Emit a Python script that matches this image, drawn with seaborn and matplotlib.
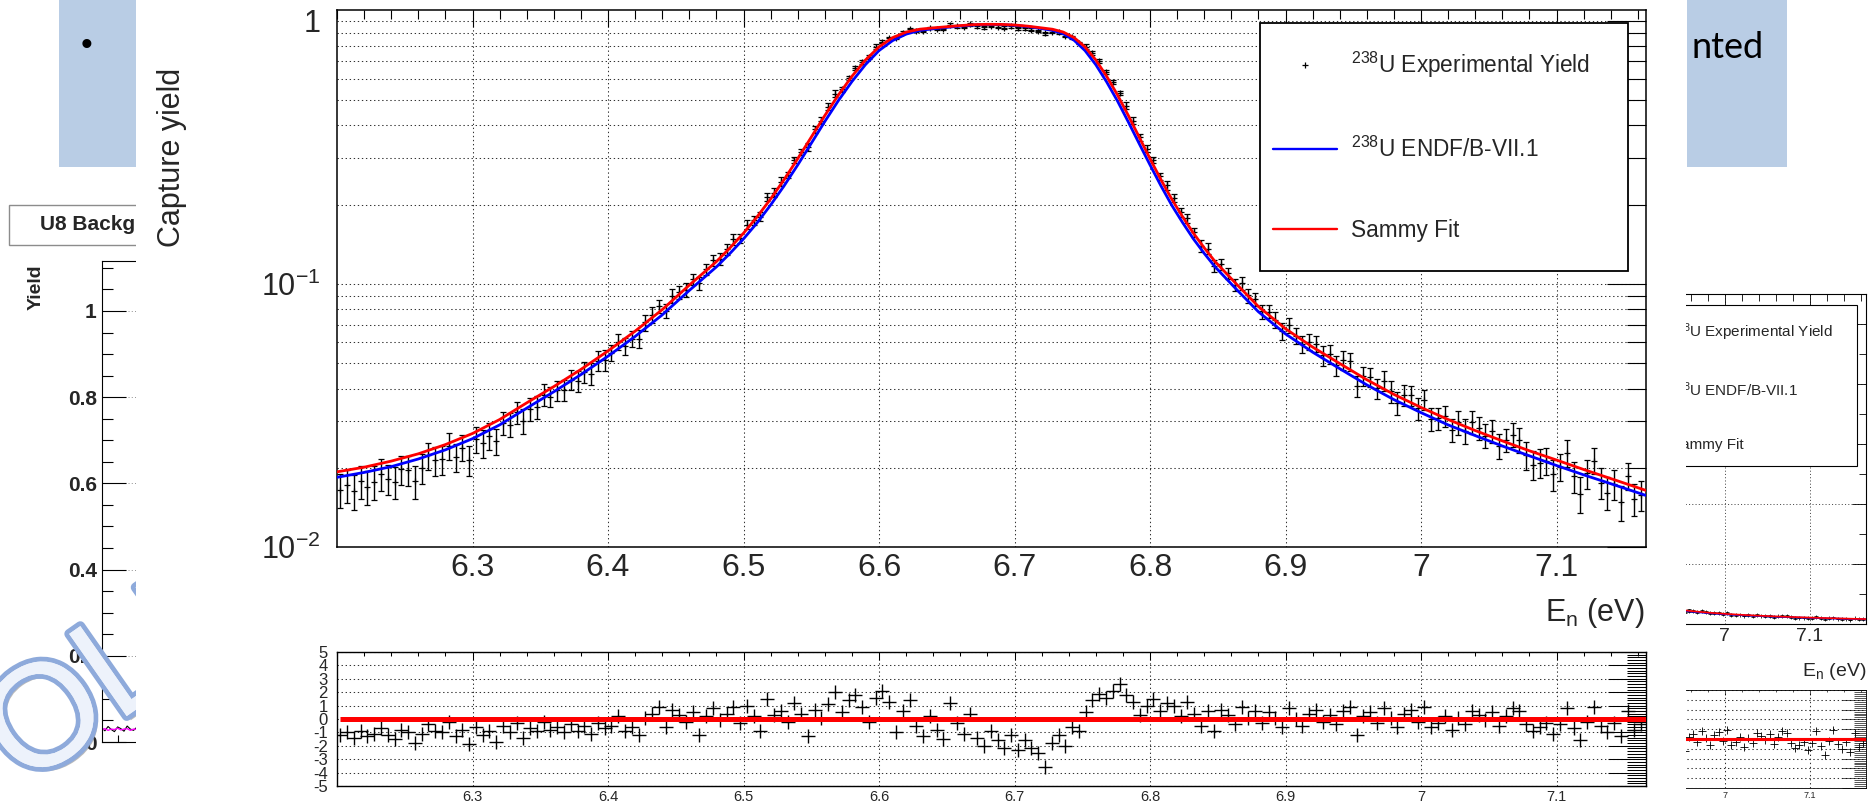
import numpy as np
import pandas as pd
import matplotlib
matplotlib.use("Agg")
import matplotlib.pyplot as plt
import matplotlib.ticker as mticker
import matplotlib.patheffects as pe
from matplotlib.patches import Rectangle
from matplotlib.lines import Line2D
import seaborn as sns

# ------------------------------------------------------------------ data
energy = [
    6.2025, 6.2075, 6.2125, 6.2175, 6.2225, 6.2275, 6.2325, 6.2375, 6.2425, 6.2475,
    6.2525, 6.2575, 6.2625, 6.2675, 6.2725, 6.2775, 6.2825, 6.2875, 6.2925, 6.2975,
    6.3025, 6.3075, 6.3125, 6.3175, 6.3225, 6.3275, 6.3325, 6.3375, 6.3425, 6.3475,
    6.3525, 6.3575, 6.3625, 6.3675, 6.3725, 6.3775, 6.3825, 6.3875, 6.3925, 6.3975,
    6.4025, 6.4075, 6.4125, 6.4175, 6.4225, 6.4275, 6.4325, 6.4375, 6.4425, 6.4475,
    6.4525, 6.4575, 6.4625, 6.4675, 6.4725, 6.4775, 6.4825, 6.4875, 6.4925, 6.4975,
    6.5025, 6.5075, 6.5125, 6.5175, 6.5225, 6.5275, 6.5325, 6.5375, 6.5425, 6.5475,
    6.5525, 6.5575, 6.5625, 6.5675, 6.5725, 6.5775, 6.5825, 6.5875, 6.5925, 6.5975,
    6.6025, 6.6075, 6.6125, 6.6175, 6.6225, 6.6275, 6.6325, 6.6375, 6.6425, 6.6475,
    6.6525, 6.6575, 6.6625, 6.6675, 6.6725, 6.6775, 6.6825, 6.6875, 6.6925, 6.6975,
    6.7025, 6.7075, 6.7125, 6.7175, 6.7225, 6.7275, 6.7325, 6.7375, 6.7425, 6.7475,
    6.7525, 6.7575, 6.7625, 6.7675, 6.7725, 6.7775, 6.7825, 6.7875, 6.7925, 6.7975,
    6.8025, 6.8075, 6.8125, 6.8175, 6.8225, 6.8275, 6.8325, 6.8375, 6.8425, 6.8475,
    6.8525, 6.8575, 6.8625, 6.8675, 6.8725, 6.8775, 6.8825, 6.8875, 6.8925, 6.8975,
    6.9025, 6.9075, 6.9125, 6.9175, 6.9225, 6.9275, 6.9325, 6.9375, 6.9425, 6.9475,
    6.9525, 6.9575, 6.9625, 6.9675, 6.9725, 6.9775, 6.9825, 6.9875, 6.9925, 6.9975,
    7.0025, 7.0075, 7.0125, 7.0175, 7.0225, 7.0275, 7.0325, 7.0375, 7.0425, 7.0475,
    7.0525, 7.0575, 7.0625, 7.0675, 7.0725, 7.0775, 7.0825, 7.0875, 7.0925, 7.0975,
    7.1025, 7.1075, 7.1125, 7.1175, 7.1225, 7.1275, 7.1325, 7.1375, 7.1425, 7.1475,
    7.1525, 7.1575, 7.1625,
]
exp_yield = [
    0.01650, 0.01716, 0.01634, 0.01776, 0.01693, 0.01767, 0.01895, 0.01814, 0.01767, 0.01972,
    0.01955, 0.01782, 0.01999, 0.02227, 0.02134, 0.02151, 0.02427, 0.02198, 0.02388, 0.02139,
    0.02573, 0.02475, 0.02644, 0.02524, 0.02962, 0.02919, 0.03249, 0.03006, 0.03356, 0.03407,
    0.03789, 0.03730, 0.03939, 0.03944, 0.04321, 0.04288, 0.04623, 0.04557, 0.05101, 0.05125,
    0.05483, 0.06015, 0.05804, 0.06195, 0.06196, 0.07141, 0.07641, 0.08213, 0.07900, 0.09010,
    0.09286, 0.09509, 0.1040, 0.1004, 0.1135, 0.1231, 0.1246, 0.1356, 0.1479, 0.1491,
    0.1680, 0.1748, 0.1802, 0.2142, 0.2219, 0.2445, 0.2592, 0.2959, 0.3171, 0.3311,
    0.3866, 0.4172, 0.4709, 0.5288, 0.5490, 0.6064, 0.6597, 0.6963, 0.7269, 0.7975,
    0.8320, 0.8581, 0.8621, 0.9003, 0.9260, 0.9167, 0.9164, 0.9385, 0.9324, 0.9293,
    0.9647, 0.9523, 0.9473, 0.9686, 0.9506, 0.9451, 0.9583, 0.9497, 0.9413, 0.9504,
    0.9340, 0.9371, 0.9244, 0.9142, 0.8952, 0.9086, 0.9019, 0.8754, 0.8638, 0.8231,
    0.7974, 0.7556, 0.7039, 0.6398, 0.5842, 0.5308, 0.4753, 0.4171, 0.3600, 0.3266,
    0.2951, 0.2564, 0.2372, 0.2122, 0.1867, 0.1778, 0.1571, 0.1390, 0.1359, 0.1169,
    0.1189, 0.1095, 0.0994, 0.1005, 0.09032, 0.08755, 0.07856, 0.07850, 0.07312, 0.06627,
    0.06986, 0.06356, 0.05893, 0.06030, 0.05925, 0.05356, 0.05389, 0.04898, 0.05140, 0.05079,
    0.04089, 0.04468, 0.04428, 0.04010, 0.04290, 0.03900, 0.03533, 0.03779, 0.03772, 0.03372,
    0.03631, 0.03074, 0.03086, 0.03154, 0.02789, 0.02977, 0.02755, 0.02984, 0.02828, 0.02651,
    0.02756, 0.02425, 0.02554, 0.02672, 0.02559, 0.02235, 0.02056, 0.02093, 0.02127, 0.01886,
    0.02019, 0.02281, 0.01854, 0.01594, 0.01904, 0.02129, 0.01758, 0.01608, 0.01734, 0.01479,
    0.01861, 0.01527, 0.01580,
]
exp_err = [
    0.00243, 0.00245, 0.00248, 0.00250, 0.00253, 0.00256, 0.00260, 0.00242, 0.00246, 0.00250,
    0.00254, 0.00258, 0.00263, 0.00268, 0.00274, 0.00279, 0.00286, 0.00267, 0.00274, 0.00280,
    0.00288, 0.00297, 0.00306, 0.00286, 0.00295, 0.00306, 0.00318, 0.00329, 0.00342, 0.00354,
    0.00367, 0.00340, 0.00353, 0.00366, 0.00380, 0.00395, 0.00410, 0.00427, 0.00445, 0.00463,
    0.00398, 0.00415, 0.00434, 0.00453, 0.00473, 0.00496, 0.00520, 0.00468, 0.00492, 0.00519,
    0.00547, 0.00578, 0.00508, 0.00534, 0.00562, 0.00592, 0.00626, 0.00665, 0.00708, 0.00604,
    0.00646, 0.00694, 0.00748, 0.00808, 0.00877, 0.00955, 0.00782, 0.00857, 0.00940, 0.01034,
    0.01136, 0.01248, 0.01368, 0.01497, 0.01087, 0.01180, 0.01274, 0.01368, 0.01460, 0.01546,
    0.00974, 0.01014, 0.01047, 0.01073, 0.01093, 0.01107, 0.01117, 0.01124, 0.01130, 0.01136,
    0.01141, 0.01147, 0.01152, 0.01157, 0.01160, 0.01162, 0.01163, 0.01162, 0.01160, 0.01157,
    0.01153, 0.01147, 0.01139, 0.01131, 0.01123, 0.01114, 0.01098, 0.01076, 0.01044, 0.00999,
    0.01579, 0.01470, 0.01356, 0.01240, 0.01121, 0.01009, 0.01353, 0.01204, 0.01070, 0.00951,
    0.00847, 0.00756, 0.00905, 0.00816, 0.00741, 0.00676, 0.00618, 0.00713, 0.00660, 0.00612,
    0.00575, 0.00540, 0.00507, 0.00572, 0.00539, 0.00507, 0.00480, 0.00457, 0.00508, 0.00484,
    0.00463, 0.00445, 0.00427, 0.00411, 0.00395, 0.00463, 0.00447, 0.00431, 0.00416, 0.00401,
    0.00387, 0.00373, 0.00361, 0.00350, 0.00379, 0.00367, 0.00356, 0.00346, 0.00336, 0.00327,
    0.00318, 0.00310, 0.00302, 0.00294, 0.00287, 0.00309, 0.00302, 0.00295, 0.00288, 0.00281,
    0.00275, 0.00269, 0.00263, 0.00281, 0.00275, 0.00269, 0.00264, 0.00259, 0.00253, 0.00248,
    0.00243, 0.00259, 0.00254, 0.00249, 0.00244, 0.00239, 0.00234, 0.00230, 0.00225, 0.00221,
    0.00216, 0.00212, 0.00208,
]
residual = [
    -1.2, -1.0, -1.4, -0.9, -1.3, -1.1, -0.7, -1.2, -1.5, -0.8,
    -1.0, -1.8, -1.1, -0.4, -0.9, -1.0, -0.2, -1.3, -0.8, -1.9,
    -0.6, -1.2, -0.9, -1.7, -0.5, -1.0, -0.3, -1.4, -0.7, -0.9,
    -0.2, -0.8, -0.6, -1.0, -0.4, -0.9, -0.5, -1.1, -0.3, -0.7,
    -0.5, 0.2, -0.9, -0.6, -1.2, 0.1, 0.4, 0.9, -0.6, 0.7,
    0.3, -0.2, 0.5, -1.2, 0.2, 0.8, -0.1, 0.4, 0.9, -0.3,
    1.0, 0.2, -0.9, 1.5, 0.3, 0.6, -0.2, 1.2, 0.4, -1.3,
    0.7, 0.1, 1.1, 2.0, 0.5, 1.4, 1.8, 0.9, -0.2, 1.6,
    2.1, 1.3, -1.0, 0.6, 1.4, -0.5, -1.3, 0.2, -0.8, -1.5,
    1.2, -0.3, -1.1, 0.4, -1.4, -2.0, -0.9, -1.6, -2.2, -1.2,
    -2.3, -1.6, -2.2, -2.5, -3.6, -1.8, -1.2, -2.0, -0.6, -0.9,
    0.5, 1.4, 1.9, 1.6, 2.1, 2.6, 1.8, 1.3, 0.3, 1.0,
    1.5, 0.6, 1.2, 1.0, 0.2, 1.3, 0.4, -0.5, 0.6, -0.9,
    0.7, 0.3, -0.4, 0.9, 0.1, 0.6, -0.3, 0.5, 0.1, -0.6,
    0.8, 0.0, -0.5, 0.4, 0.7, -0.2, 0.3, -0.4, 0.6, 0.9,
    -1.2, 0.2, 0.5, -0.3, 0.8, 0.1, -0.6, 0.4, 0.7, -0.2,
    0.9, -0.6, -0.3, 0.2, -0.8, 0.1, -0.4, 0.6, 0.3, -0.1,
    0.5, -0.5, 0.2, 0.8, 0.6, -0.4, -0.9, -0.6, -0.3, -1.1,
    -0.4, 0.8, -0.7, -1.6, -0.2, 0.9, -0.5, -1.0, -0.3, -1.3,
    0.6, -0.8, -0.4,
]
fit_energy = [
    6.20, 6.22, 6.24, 6.26, 6.28, 6.30, 6.32, 6.34, 6.36, 6.38, 6.40, 6.42, 6.44, 6.46,
    6.48, 6.49, 6.50, 6.51, 6.52, 6.53, 6.54, 6.55, 6.56, 6.57, 6.58, 6.59, 6.60, 6.61, 6.62, 6.63, 6.64,
    6.66, 6.67, 6.68, 6.69, 6.70, 6.71, 6.72,
    6.728, 6.736, 6.744, 6.752, 6.760, 6.768, 6.776, 6.784, 6.792, 6.800, 6.808, 6.816, 6.824, 6.832, 6.840, 6.848,
    6.864, 6.880,
    6.90, 6.92, 6.94, 6.96, 6.98, 7.00, 7.02, 7.04, 7.06, 7.08, 7.10, 7.12, 7.14,
    7.166,
]
sammy_fit = [
    0.0193, 0.0201, 0.0212, 0.0226, 0.0245, 0.0270, 0.0305, 0.0353, 0.0407, 0.0473, 0.0556, 0.0661, 0.0798, 0.0989,
    0.1215, 0.1370, 0.1558, 0.1797, 0.2102, 0.2492, 0.2989, 0.3611, 0.4361, 0.5219, 0.6145, 0.7090, 0.7953, 0.8620, 0.9049, 0.9282, 0.9390,
    0.958, 0.966, 0.969, 0.968, 0.963, 0.953, 0.939,
    0.928, 0.905, 0.862, 0.795, 0.709, 0.6145, 0.522, 0.436, 0.361, 0.299, 0.249, 0.210, 0.180, 0.1558, 0.137, 0.1215,
    0.0995, 0.0820,
    0.0675, 0.0575, 0.0498, 0.0432, 0.0380, 0.0339, 0.0305, 0.0277, 0.0253, 0.0232, 0.0214, 0.0197, 0.0182,
    0.0164,
]
endf_yield = [
    0.0184, 0.0192, 0.0202, 0.0216, 0.0234, 0.0258, 0.0291, 0.0337, 0.0389, 0.0452, 0.0531, 0.0631, 0.0762, 0.0944,
    0.1160, 0.1305, 0.1482, 0.1705, 0.1993, 0.2360, 0.2830, 0.3420, 0.4140, 0.4970, 0.5870, 0.6810, 0.7700, 0.8400, 0.8890, 0.9180, 0.9320,
    0.9540, 0.9630, 0.9670, 0.9660, 0.9600, 0.9490, 0.9330,
    0.9190, 0.8920, 0.8420, 0.7700, 0.6800, 0.5850, 0.4950, 0.4120, 0.3410, 0.2830, 0.2360, 0.1990, 0.1710, 0.1482, 0.1305, 0.1160,
    0.0950, 0.0783,
    0.0645, 0.0550, 0.0476, 0.0413, 0.0363, 0.0324, 0.0291, 0.0265, 0.0242, 0.0222, 0.0204, 0.0188, 0.0174,
    0.0157,
]

x_tick_values = [6.3, 6.4, 6.5, 6.6, 6.7, 6.8, 6.9, 7.0, 7.1]
x_tick_labels = ["6.3", "6.4", "6.5", "6.6", "6.7", "6.8", "6.9", "7", "7.1"]
y_tick_values = [0.01, 0.1, 1.0]
y_tick_labels = ["10$^{-2}$", "10$^{-1}$", "1"]
res_tick_values = [-5, -4, -3, -2, -1, 0, 1, 2, 3, 4, 5]
res_tick_labels = ["-5", "-4", "-3", "-2", "-1", "0", "1", "2", "3", "4", "5"]
legend_labels = ["$^{238}$U Experimental Yield", "$^{238}$U ENDF/B-VII.1", "Sammy Fit"]
X_MIN, X_MAX = 6.2, 7.166
Y_MIN, Y_MAX = 0.01, 1.098

# background slide: part of an older linear-scale chart at the left
bg_yield_ticks = [0, 0.2, 0.4, 0.6, 0.8, 1.0]
bg_yield_labels = ["0", "0.2", "0.4", "0.6", "0.8", "1"]
bg_trace_x = [0.00, 0.01, 0.02, 0.03, 0.04, 0.05, 0.06, 0.07, 0.08, 0.09, 0.10, 0.11, 0.12, 0.13, 0.14, 0.15, 0.16]
bg_trace_magenta = [0.028, 0.031, 0.027, 0.030, 0.029, 0.032, 0.028, 0.030, 0.031, 0.027, 0.030, 0.029, 0.031, 0.028, 0.030, 0.029, 0.030]
bg_trace_black = [0.033, 0.026, 0.036, 0.029, 0.024, 0.035, 0.031, 0.025, 0.037, 0.030, 0.027, 0.034, 0.028, 0.036, 0.026, 0.033, 0.029]

df_exp = pd.DataFrame({"E": energy, "Y": exp_yield, "err": exp_err, "res": residual})
df_fit = pd.DataFrame({"E": fit_energy, "sammy": sammy_fit, "endf": endf_yield})

# ------------------------------------------------------------------ style
sns.set_theme(style="white")
plt.rcParams["font.family"] = ["Liberation Sans", "DejaVu Sans"]
plt.rcParams["mathtext.fontset"] = "custom"
plt.rcParams["mathtext.rm"] = "Liberation Sans"
plt.rcParams["mathtext.it"] = "Liberation Sans:italic"
plt.rcParams["mathtext.bf"] = "Liberation Sans:bold"

W, H, DPI = 1868, 802, 100
PX = 72.0 / DPI          # points per pixel
BLUE, RED = "#0000ff", "#ff0000"
SLIDE_BLUE = "#b9cde5"
NARROW = ["Liberation Sans Narrow", "Liberation Sans", "DejaVu Sans"]
DOT = (0, (1.3, 2.6))

fig = plt.figure(figsize=(W / DPI, H / DPI), dpi=DPI)
fig.patch.set_facecolor("white")


def add_ax(x0, y0, x1, y1):
    return fig.add_axes([x0 / W, 1 - y1 / H, (x1 - x0) / W, (y1 - y0) / H])


def frame(ax, lw):
    ax.set_facecolor("white")
    for sp in ax.spines.values():
        sp.set_visible(True)
        sp.set_color("black")
        sp.set_linewidth(lw)


def boxed_legend(ax, box, anchor, fs, lw_frame, handles):
    """ROOT-like legend: white framed box with a frameless legend placed inside."""
    x0, y0, x1, y1 = box
    ax.add_patch(Rectangle((x0 / W, 1 - y1 / H), (x1 - x0) / W, (y1 - y0) / H,
                           transform=fig.transFigure, fc="white", ec="black",
                           lw=lw_frame, zorder=6, clip_on=False))
    leg = ax.legend(handles, legend_labels, loc="upper left",
                    bbox_to_anchor=(anchor[0] / W, 1 - anchor[1] / H),
                    bbox_transform=fig.transFigure, frameon=False, fontsize=fs,
                    borderpad=0, labelspacing=2.5, handlelength=2.83,
                    handletextpad=0.62, borderaxespad=0)
    leg.set_zorder(7)
    return leg


def draw_yield(ax, k):
    ax.errorbar(df_exp["E"], df_exp["Y"], yerr=df_exp["err"], fmt="+", color="black",
                ms=4.0 * k, mew=0.9 * k, elinewidth=1.0 * k, capsize=2.2 * k,
                capthick=1.0 * k, zorder=2)
    sns.lineplot(data=df_fit, x="E", y="endf", ax=ax, color=BLUE, lw=2.0 * k,
                 estimator=None, sort=False, legend=False, zorder=3)
    sns.lineplot(data=df_fit, x="E", y="sammy", ax=ax, color=RED, lw=2.0 * k,
                 estimator=None, sort=False, legend=False, zorder=4)
    ax.set_xlabel("")
    ax.set_ylabel("")


def draw_residual(ax, k, n_labels):
    sns.scatterplot(data=df_exp, x="E", y="res", ax=ax, marker="+", s=(9.5 * k) ** 2,
                    color="black", linewidth=1.0 * k, legend=False, zorder=3)
    ax.plot([energy[0], X_MAX], [0, 0], color=RED, lw=3.6 * k, zorder=4,
            solid_capstyle="butt")
    ax.set_xlabel("")
    ax.set_ylabel("")
    ax.set_xlim(X_MIN, X_MAX)
    ax.set_ylim(-5, 5)
    ax.xaxis.set_major_locator(mticker.FixedLocator(x_tick_values[-n_labels:]))
    ax.xaxis.set_major_formatter(mticker.FixedFormatter(x_tick_labels[-n_labels:]))
    ax.xaxis.set_minor_locator(mticker.MultipleLocator(0.02))
    ax.yaxis.set_major_locator(mticker.FixedLocator(res_tick_values))
    ax.yaxis.set_major_formatter(mticker.FixedFormatter(res_tick_labels))
    ax.yaxis.set_minor_locator(mticker.MultipleLocator(0.2))
    ax.tick_params(which="both", direction="in", top=True, right=True, color="black",
                   width=0.75 * k)
    ax.tick_params(axis="y", which="major", length=38 * PX * k, labelsize=12 * k, pad=6.5 * k)
    ax.tick_params(axis="y", which="minor", length=19 * PX * k)
    ax.tick_params(axis="x", which="major", length=8 * PX * k, labelsize=10.5 * k, pad=3 * k)
    ax.tick_params(axis="x", which="minor", length=4 * PX * k)
    for lab in ax.get_xticklabels() + ax.get_yticklabels():
        lab.set_family(NARROW)
    ax.grid(True, which="major", axis="both", color="#333333", lw=0.75, ls=DOT)
    ax.set_axisbelow(True)
    frame(ax, 1.0 * k)


# ------------------------------------------------------------------ slide background
bg = add_ax(0, 0, W, H)
bg.set_xlim(0, W)
bg.set_ylim(H, 0)
bg.axis("off")
bg.add_patch(Rectangle((59, 0), 400, 167, fc=SLIDE_BLUE, ec="none"))
bg.add_patch(Rectangle((1687, 0), 100, 167, fc=SLIDE_BLUE, ec="none"))
bg.text(87, 46, "\u2022", fontsize=24, ha="center", va="center", color="black")
bg.text(1691, 47, "nted", fontsize=26, ha="left", va="center", color="black",
        family=["Lato", "DejaVu Sans"])
bg.add_patch(Rectangle((9, 205), 400, 40, fc="white", ec="#8c8c8c", lw=1.0))
bg.text(40, 224, "U8 Backg", fontsize=15, fontweight="bold", ha="left", va="center")
bg.text(36, 287, "Yield", fontsize=14, fontweight="bold", rotation=90, ha="center", va="center")
bg.text(1866, 672, "E$_{\\rm n}$ (eV)", fontsize=14, ha="right", va="center")

# left chart of the slide
lc = add_ax(101.7, 261, 420, 742)
lc.set_xlim(0, 1)
lc.set_ylim(0, 1.116)
sns.lineplot(x=bg_trace_x, y=bg_trace_black, ax=lc, color="black", lw=0.8, legend=False)
sns.lineplot(x=bg_trace_x, y=bg_trace_magenta, ax=lc, color="#ff00ff", lw=1.0, legend=False)
lc.yaxis.set_major_locator(mticker.FixedLocator(bg_yield_ticks))
lc.yaxis.set_major_formatter(mticker.FixedFormatter(bg_yield_labels))
lc.yaxis.set_minor_locator(mticker.MultipleLocator(0.05))
lc.xaxis.set_major_locator(mticker.FixedLocator([0.05]))
lc.xaxis.set_major_formatter(mticker.NullFormatter())
lc.tick_params(which="both", direction="in", left=True, bottom=True, color="black", width=0.8)
lc.tick_params(axis="y", which="major", length=17, labelsize=15, pad=3.5)
lc.tick_params(axis="y", which="minor", length=8)
lc.tick_params(axis="x", which="major", length=5)
for lab in lc.get_yticklabels():
    lab.set_fontweight("bold")
lc.grid(True, axis="y", which="major", color="#888888", lw=0.6, ls=DOT)
frame(lc, 0.8)

# "OLD" watermark over the slide chart
wm = add_ax(0, 0, W, H)
wm.set_xlim(0, W)
wm.set_ylim(H, 0)
wm.axis("off")
wm.text(24, 788, "OLD", fontsize=105, rotation=35, rotation_mode="anchor",
        ha="left", va="baseline", color="#edf2fb",
        path_effects=[pe.SimplePatchShadow(offset=(3, -3), shadow_rgbFace="#777777", alpha=0.5),
                      pe.withStroke(linewidth=7, foreground="#8eaadb"), pe.Normal()])

# right chart of the slide (same data, linear scale); only its right end is visible
rc = add_ax(1045, 294, 1866, 624)
draw_yield(rc, 0.62)
rc.set_xlim(X_MIN, X_MAX)
rc.set_ylim(0, 1.1)
rc.xaxis.set_major_locator(mticker.FixedLocator(x_tick_values[-2:]))
rc.xaxis.set_major_formatter(mticker.FixedFormatter(x_tick_labels[-2:]))
rc.xaxis.set_minor_locator(mticker.MultipleLocator(0.02))
rc.yaxis.set_major_locator(mticker.MultipleLocator(0.2))
rc.yaxis.set_minor_locator(mticker.MultipleLocator(0.1))
rc.yaxis.set_major_formatter(mticker.NullFormatter())
rc.tick_params(which="both", direction="in", top=True, right=True, color="black", width=0.6)
rc.tick_params(axis="both", which="major", length=10, labelsize=14, pad=3)
rc.tick_params(axis="both", which="minor", length=5)
rc.grid(True, which="major", axis="both", color="#333333", lw=0.6, ls=DOT)
rc.set_axisbelow(True)
frame(rc, 0.8)
rc_handles = [Line2D([], [], ls="none", marker="+", color="black", ms=3, mew=0.7),
              Line2D([], [], color=BLUE, lw=1.2),
              Line2D([], [], color=RED, lw=1.2)]
boxed_legend(rc, (1560, 305, 1857, 466), (1618, 321), 11, 0.8, rc_handles)

rr = add_ax(1045, 690, 1866, 788)
draw_residual(rr, 0.62, 2)

# ------------------------------------------------------------------ white pasted picture
ov = add_ax(136, 0, 1686, H)
ov.set_facecolor("white")
ov.set_xticks([])
ov.set_yticks([])
for sp in ov.spines.values():
    sp.set_visible(False)

# ------------------------------------------------------------------ main yield panel
ax = add_ax(337, 10, 1646, 547)
ax.set_yscale("log")
draw_yield(ax, 1.0)
ax.set_xlim(X_MIN, X_MAX)
ax.set_ylim(Y_MIN, Y_MAX)
ax.xaxis.set_major_locator(mticker.FixedLocator(x_tick_values))
ax.xaxis.set_major_formatter(mticker.FixedFormatter(x_tick_labels))
ax.xaxis.set_minor_locator(mticker.MultipleLocator(0.02))
ax.yaxis.set_major_locator(mticker.FixedLocator(y_tick_values))
ax.yaxis.set_major_formatter(mticker.FixedFormatter(y_tick_labels))
ax.yaxis.set_minor_locator(mticker.LogLocator(base=10, subs=(2, 3, 4, 5, 6, 7, 8, 9)))
ax.yaxis.set_minor_formatter(mticker.NullFormatter())
ax.tick_params(which="both", direction="in", top=True, right=True, color="black", width=0.8)
ax.tick_params(axis="y", which="major", length=39 * PX, labelsize=22, pad=12)
ax.tick_params(axis="y", which="minor", length=19 * PX)
ax.tick_params(axis="x", which="major", length=17 * PX, labelsize=23, pad=4.5)
ax.tick_params(axis="x", which="minor", length=9 * PX)
ax.grid(True, which="major", axis="x", color="#333333", lw=0.75, ls=DOT)
ax.grid(True, which="both", axis="y", color="#333333", lw=0.75, ls=DOT)
ax.set_axisbelow(True)
frame(ax, 1.1)

handles = [Line2D([], [], ls="none", marker="+", color="black", ms=4.5, mew=0.9),
           Line2D([], [], color=BLUE, lw=1.7),
           Line2D([], [], color=RED, lw=1.7)]
boxed_legend(ax, (1260, 23, 1628, 271), (1273, 50), 16.3, 1.3, handles)

fig.text(172 / W, 1 - 157 / H, "Capture yield", rotation=90, fontsize=22,
         ha="center", va="center")
fig.text(1645 / W, 1 - 613 / H, "E$_{\\rm n}$ (eV)", fontsize=22, ha="right", va="center")

# ------------------------------------------------------------------ residual panel
axr = add_ax(337, 652, 1646, 786)
draw_residual(axr, 1.0, len(x_tick_values))

fig.savefig("out.png", dpi=DPI, facecolor="white")
